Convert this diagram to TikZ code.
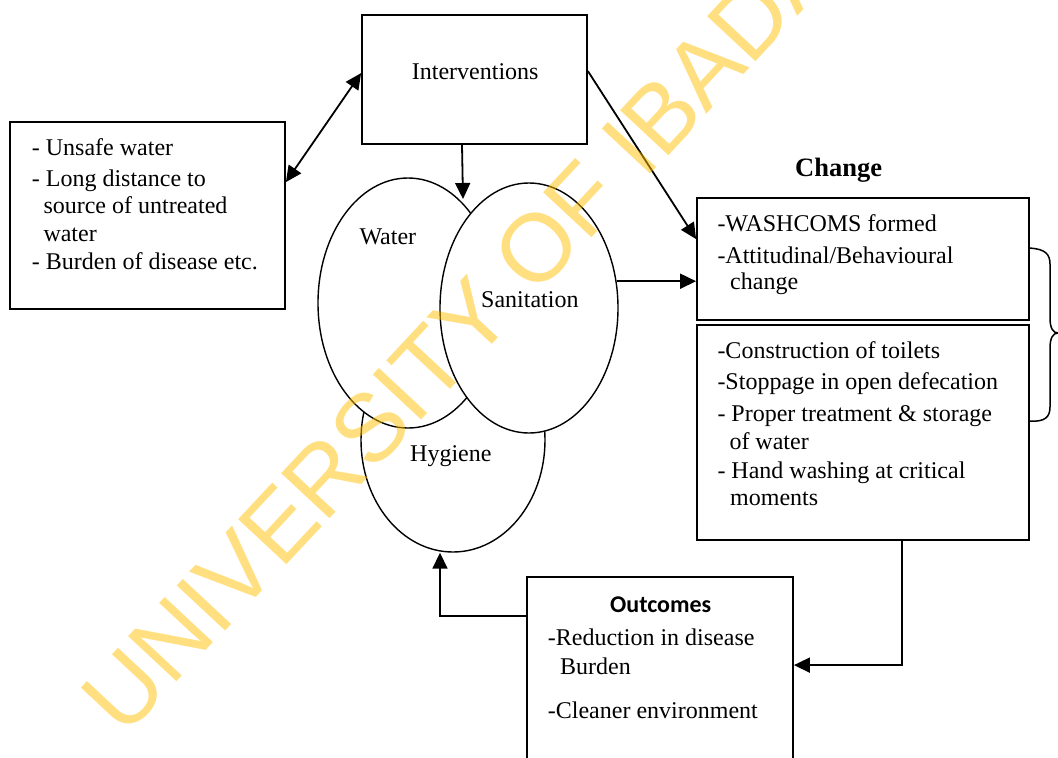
\documentclass[tikz,border=0pt]{standalone}
\usepackage{fontspec}
\setmainfont{Liberation Serif}
\newfontfamily\calibri{Carlito}
\newfontfamily\wmfont{Liberation Sans}
\usetikzlibrary{arrows.meta,shapes.geometric,calc}
\definecolor{wmyellow}{HTML}{FFC000}
\tikzset{
  box/.style={draw, rectangle, line width=1.8pt, inner sep=0pt},
  ell/.style={draw, ellipse, fill=white, line width=1.4pt, inner sep=0pt},
  txt/.style={font=\fontsize{24}{28}\selectfont, inner sep=0pt, anchor=base west},
  arr/.style={line width=1.8pt, -{Triangle[length=16pt,width=15pt]}},
  arrtwo/.style={line width=1.8pt, {Triangle[length=16pt,width=15pt]}-{Triangle[length=16pt,width=15pt]}},
  bracel/.style={line width=1.5pt},
  wm/.style={font=\wmfont\fontsize{96}{96}\selectfont, text=wmyellow, text opacity=0.5, rotate=47, inner sep=0pt}
}
\begin{document}
\begin{tikzpicture}[x=1pt,y=-1pt]
\useasboundingbox (0,0) rectangle (1058,758);
\clip (0,0) rectangle (1058,758);
\fill[white] (0,0) rectangle (1058,758);

% boxes
\node[box, minimum width=275pt, minimum height=187pt] (left) at (147.5,215.5) {};
\node[box, minimum width=225pt, minimum height=129pt] (inter) at (474.5,79.5) {};
\node[box, minimum width=332pt, minimum height=122pt] (ch1) at (863,259) {};
\node[box, minimum width=332pt, minimum height=215pt] (ch2) at (863,432.5) {};
\node[box, minimum width=266pt, minimum height=220pt] (out) at (660,687) {};

% ellipses
\node[ell, minimum width=184pt, minimum height=224pt] (hyg) at (453,440) {};
\node[ell, minimum width=180pt, minimum height=250pt] (water) at (408,303) {};
\node[ell, minimum width=178pt, minimum height=250pt] (san) at (529,308) {};

% texts
\node[txt] (l1) at (31.7,155) {- Unsafe water};
\node[txt] (l2) at (31.7,186) {- Long distance to};
\node[txt] (l3) at (43.3,213) {source of untreated};
\node[txt] (l4) at (43.3,241.5) {water};
\node[txt] (l5) at (31.7,269.5) {- Burden of disease etc.};

\node[txt] (tinter) at (411.7,79) {Interventions};
\node[txt] (twater) at (359.3,244.3) {Water};
\node[txt] (tsan) at (481,307.7) {Sanitation};
\node[txt] (thyg) at (410,461) {Hygiene};

\node[txt, font=\bfseries\fontsize{26.5}{30}\selectfont] (tchange) at (795,176.7) {Change};

\node[txt] (c1) at (717.3,231) {-WASHCOMS formed};
\node[txt] (c2) at (717.3,263) {-Attitudinal/Behavioural};
\node[txt] (c3) at (730,289.5) {change};

\node[txt] (d1) at (717.3,358.5) {-Construction of toilets};
\node[txt] (d2) at (717.3,389) {-Stoppage in open defecation};
\node[txt] (d3) at (717.3,421.5) {- Proper treatment \& storage};
\node[txt] (d4) at (729.3,449.5) {of water};
\node[txt] (d5) at (717.3,478) {- Hand washing at critical};
\node[txt] (d6) at (730,505) {moments};

\node[txt, font=\calibri\bfseries\fontsize{24}{28}\selectfont] (tout) at (610,612) {Outcomes};
\node[txt] (o1) at (547.7,645) {-Reduction in disease};
\node[txt] (o2) at (560,674.3) {Burden};
\node[txt] (o3) at (547.7,718.3) {-Cleaner environment};

% connectors
\coordinate (vtop) at (463,199);
\draw[arrtwo] ([yshift=-61pt]left.north east) -- ([yshift=-59pt]inter.north west);
\draw[arr] ([xshift=-12.5pt]inter.south) -- (vtop);
\draw[arr] ([yshift=-57pt]inter.north east) -- ([yshift=-42pt]ch1.north west);
\draw[arr] (san.17) -- (san.17 -| ch1.west);
\draw[arr] ([xshift=39pt]ch2.south) |- ([yshift=-89pt]out.north east);
\draw[arr] ([yshift=-40pt]out.north west) -| ([xshift=-13pt]hyg.south);

% brace
\coordinate (b1) at ([yshift=-51pt]ch1.north east);
\coordinate (b2) at ([yshift=-97pt]ch2.north east);
\draw[bracel] (b1) .. controls (1045,249) and (1050,254) .. (1050,264)
  -- (1050,318) .. controls (1050,328) and (1053,333) .. (1058,333)
  .. controls (1053,333) and (1050,338) .. (1050,348)
  -- (1050,407) .. controls (1050,417) and (1045,422) .. (b2);

% watermark
\node[wm] (wmark) at (482.5,306.5) {UNIVERSITY OF IBADAN};
\end{tikzpicture}
\end{document}
